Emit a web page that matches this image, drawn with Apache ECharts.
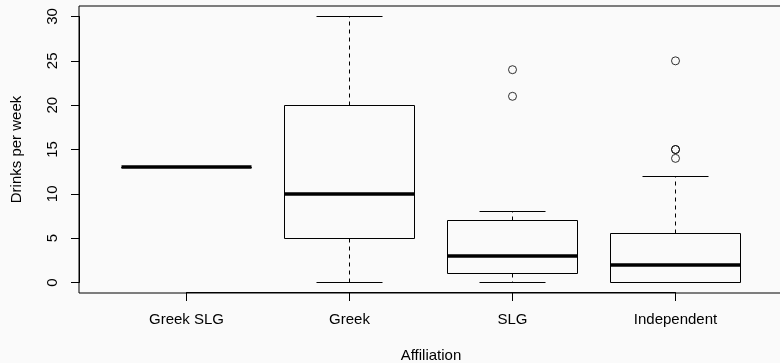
<!DOCTYPE html>
<html>
<head>
<meta charset="utf-8">
<script src="https://cdn.jsdelivr.net/npm/echarts@6/dist/echarts.min.js"></script>
<style>
html,body{margin:0;padding:0;background:#fafafa;}
#chart{width:780px;height:363px;}
</style>
</head>
<body>
<div id="chart"></div>
<script>
// ---- data ----
const categories = ['Greek SLG', 'Greek', 'SLG', 'Independent'];
const lowWhisker = [13, 0, 0, 0];
const q1 = [13, 5, 1, 0];
const medians = [13, 10, 3, 2];
const q3 = [13, 20, 7, 5.5];
const highWhisker = [13, 30, 8, 12];
const outlierGroup = ['SLG', 'SLG', 'Independent', 'Independent', 'Independent', 'Independent'];
const outlierValue = [24, 21, 25, 15, 15, 14];
const yTicks = [0, 5, 10, 15, 20, 25, 30];

const boxData = categories.map((c, i) => [i, lowWhisker[i], q1[i], medians[i], q3[i], highWhisker[i]]);
const outlierData = outlierGroup.map((g, i) => [g, outlierValue[i]]);

const FONT = 'Liberation Sans, Arial, Helvetica, sans-serif';
const FS = 15;
const AXIS_OFFSET = 10;
const TICK_LEN = 8;
const chart = echarts.init(document.getElementById('chart'), null, {renderer: 'canvas'});

function h(v) { return Math.round(v - 0.5) + 0.5; }

function renderBox(params, api) {
  const x = api.value(0);
  const lo = api.coord([x, api.value(1)]);
  const b1 = api.coord([x, api.value(2)]);
  const md = api.coord([x, api.value(3)]);
  const b3 = api.coord([x, api.value(4)]);
  const hi = api.coord([x, api.value(5)]);
  const band = api.size([1, 0])[0];
  const bw = band * 0.8;
  const cw = band * 0.4;
  const cx = h(lo[0]);
  const left = h(cx - bw / 2), right = h(cx + bw / 2);
  const thin = {stroke: '#000', lineWidth: 1, fill: null};
  const dashed = {stroke: '#000', lineWidth: 1, lineDash: [4, 4]};
  const children = [
    {type: 'line', shape: {x1: cx, y1: h(b3[1]), x2: cx, y2: h(hi[1])}, style: dashed},
    {type: 'line', shape: {x1: cx, y1: h(b1[1]), x2: cx, y2: h(lo[1])}, style: dashed},
    {type: 'line', shape: {x1: h(cx - cw / 2), y1: h(hi[1]), x2: h(cx + cw / 2), y2: h(hi[1])}, style: thin},
    {type: 'line', shape: {x1: h(cx - cw / 2), y1: h(lo[1]), x2: h(cx + cw / 2), y2: h(lo[1])}, style: thin},
    {type: 'rect', shape: {x: left, y: h(b3[1]), width: right - left, height: h(b1[1]) - h(b3[1])}, style: thin},
    {type: 'line', shape: {x1: left, y1: Math.round(md[1]), x2: right, y2: Math.round(md[1])}, style: {stroke: '#000', lineWidth: 3.5}}
  ];
  return {type: 'group', children: children};
}

const option = {
  backgroundColor: '#fafafa',
  animation: false,
  grid: [
    // frame (plot region incl. R's 4% extension)
    {left: 79, top: 6, right: -3, bottom: 70, show: true, borderColor: '#000', borderWidth: 1,
     backgroundColor: 'transparent', containLabel: false, outerBoundsMode: 'none'},
    // data region: first..last category, y 0..30
    {left: 186.5, right: 104.5, top: 16.5, bottom: 80.5, containLabel: false, outerBoundsMode: 'none'}
  ],
  xAxis: [
    {gridIndex: 0, type: 'value', show: false, min: 0, max: 1},
    {
      gridIndex: 1, type: 'category', data: categories, boundaryGap: false, position: 'bottom', offset: AXIS_OFFSET,
      splitLine: {show: false},
      axisLine: {show: true, onZero: false, lineStyle: {color: '#000', width: 1}},
      axisTick: {show: true, inside: false, length: TICK_LEN, interval: 0, lineStyle: {color: '#000', width: 1}},
      axisLabel: {margin: 20, interval: 0, color: '#000', fontSize: FS, fontFamily: FONT},
      name: 'Affiliation', nameLocation: 'middle', nameGap: 56,
      nameTextStyle: {color: '#000', fontSize: FS, fontFamily: FONT}
    }
  ],
  yAxis: [
    {gridIndex: 0, type: 'value', show: false, min: 0, max: 1},
    {
      gridIndex: 1, type: 'value', min: yTicks[0], max: yTicks[yTicks.length - 1], interval: 5, offset: 107.5,
      splitLine: {show: false},
      axisLine: {show: true, onZero: false, lineStyle: {color: '#000', width: 1}},
      axisTick: {show: true, length: TICK_LEN, lineStyle: {color: '#000'}},
      axisLabel: {margin: 19, rotate: 90, color: '#000', fontSize: FS, fontFamily: FONT},
      name: 'Drinks per week', nameLocation: 'middle', nameGap: 55, nameRotate: 90,
      nameTextStyle: {color: '#000', fontSize: FS, fontFamily: FONT}
    }
  ],
  series: [
    {
      type: 'custom', xAxisIndex: 1, yAxisIndex: 1, clip: false,
      renderItem: renderBox, data: boxData,
      encode: {x: 0, y: [1, 2, 3, 4, 5]}
    },
    {
      type: 'scatter', xAxisIndex: 1, yAxisIndex: 1, clip: false,
      symbol: 'circle', symbolSize: 8,
      itemStyle: {color: 'rgba(0,0,0,0)', borderColor: '#000', borderWidth: 1},
      data: outlierData
    }
  ]
};
chart.setOption(option);

// x-axis tick marks placed through the chart's own scales
const tickGraphics = categories.map(c => {
  const p = chart.convertToPixel({xAxisIndex: 1, yAxisIndex: 1}, [c, yTicks[0]]);
  const x = h(p[0]);
  const y0 = Math.round(p[1]) + AXIS_OFFSET;
  return {type: 'line', z: 100, silent: true,
          shape: {x1: x, y1: y0, x2: x, y2: y0 + TICK_LEN},
          style: {stroke: '#000', lineWidth: 1}};
});
chart.setOption({graphic: tickGraphics});
</script>
</body>
</html>
